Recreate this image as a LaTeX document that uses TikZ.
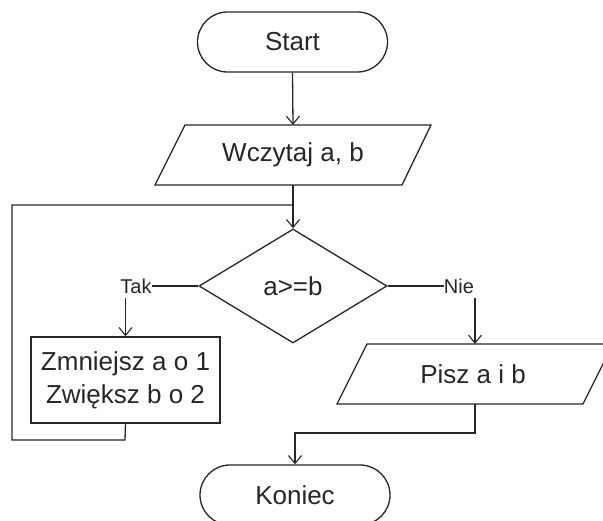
\documentclass[tikz,border=0pt]{standalone}
\usepackage{fontspec}
\setmainfont{Liberation Sans}
\usetikzlibrary{arrows.meta,shapes.geometric}
\begin{document}
\begin{tikzpicture}[x=1pt,y=-1pt,
  every node/.style={text=black!85, inner sep=0pt},
  ln/.style={line width=1.3pt, draw=black!85},
  arr/.style={ln, -{Straight Barb[length=8pt,width=13pt,line width=1.1pt]}},
  bigtxt/.style={font=\fontsize{26}{33}\selectfont},
  smalltxt/.style={font=\fontsize{20}{24}\selectfont},
  terminal/.style={ln, bigtxt, rectangle, rounded corners=30pt, minimum width=190pt, minimum height=60pt},
  procbox/.style={ln, bigtxt, rectangle, minimum width=189pt, minimum height=86pt, align=center},
  decision/.style={ln, bigtxt, diamond, aspect=1.65, minimum width=188pt, minimum height=114pt}
]
\useasboundingbox (0,0) rectangle (603,521);
\clip (0,0) rectangle (603,521);
% nodes
\node[terminal] (start) at (292.5,42) {Start};
\node[bigtxt] (wcz) at (293,155) {Wczytaj a, b};
\draw[ln] (185,125) coordinate (wczt) -- (431,125) -- (402,185) -- (155,185) -- cycle;
\coordinate (wczb) at (293,185);
\coordinate (wcztop) at (293,125);
\node[decision] (dec) at (293,286) {a>=b};
\node[smalltxt] (tak) at (136,286) {Tak};
\node[smalltxt] (nie) at (459,286) {Nie};
\node[procbox] (box) at (125.5,380) {Zmniejsz a o 1\\Zwiększ b o 2};
\node[bigtxt] (pisz) at (473,374) {Pisz a i b};
\draw[ln] (367,344) -- (613,344) -- (583,404) -- (337,404) -- cycle;
\coordinate (pisztop) at (475,344);
\coordinate (piszbot) at (475,404);
\node[terminal] (kon) at (295,495) {Koniec};
% junction coordinates
\coordinate (join) at (293,205);
\coordinate (loopA) at (125,440);
\coordinate (loopB) at (12,440);
\coordinate (loopC) at (12,205);
\coordinate (endA) at (475,433);
% connectors
\draw[arr] (start.south) -- (wcztop);
\draw[arr] (wczb) -- (dec.north);
\draw[ln] (box.south) -- (loopA) -- (loopB) -- (loopC) -- (join);
\draw[ln] (dec.west) -- (tak.east);
\draw[arr] (box.north |- tak.south) ++(0,4) -- (box.north);
\draw[ln] (dec.east) -- (nie.west);
\draw[arr] (pisztop |- nie.south) ++(0,4) -- (pisztop);
\draw[arr] (piszbot) -- (endA) -- (endA -| kon.north) -- (kon.north);
\end{tikzpicture}
\end{document}
